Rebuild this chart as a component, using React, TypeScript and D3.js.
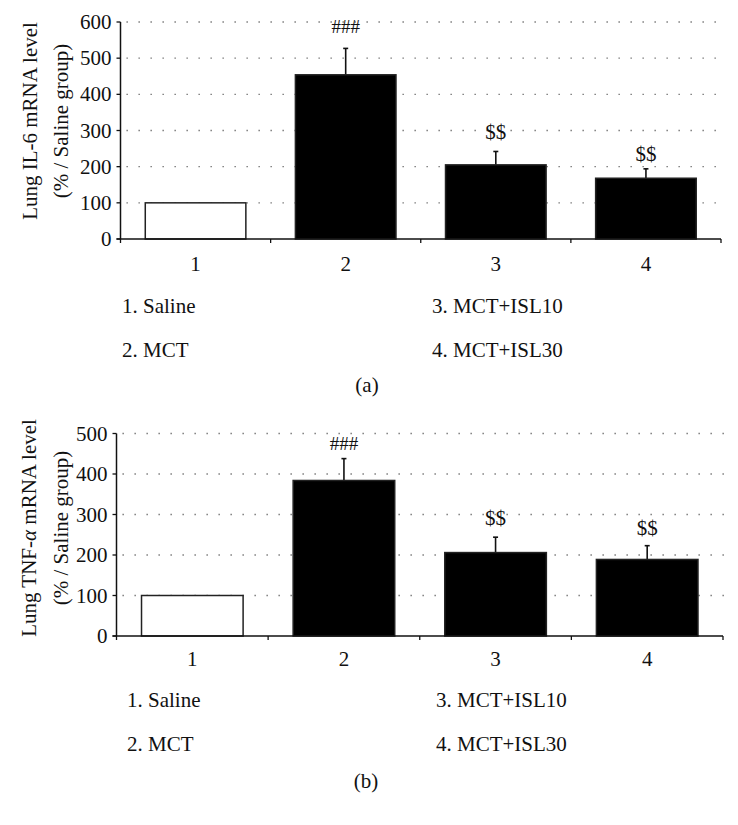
import React from "react";
import * as d3 from "d3";

const categories = ["1", "2", "3", "4"];
const legendLeft = ["1. Saline", "2. MCT"];
const legendRight = ["3. MCT+ISL10", "4. MCT+ISL30"];

const il6Means = [100, 454, 205, 168];
const il6Errors = [0, 73, 37, 26];
const il6Marks = ["", "###", "$$", "$$"];
const il6Ticks = [0, 100, 200, 300, 400, 500, 600];

const tnfMeans = [100, 384, 206, 189];
const tnfErrors = [0, 54, 38, 34];
const tnfMarks = ["", "###", "$$", "$$"];
const tnfTicks = [0, 100, 200, 300, 400, 500];

const FONT = "'Liberation Serif', 'Times New Roman', serif";

type PanelProps = {
  means: number[];
  errors: number[];
  marks: string[];
  ticks: number[];
  yMax: number;
  x0: number;
  x1: number;
  yTop: number;
  yBottom: number;
  title1: React.ReactNode;
  title2: string;
  titleX1: number;
  titleX2: number;
  titleCY: number;
  tickLabelBaseline: number;
  legendX1: number;
  legendX2: number;
  legendY1: number;
  legendY2: number;
  caption: string;
  captionX: number;
  captionY: number;
  markOffsets: number[];
};

function Panel(p: PanelProps) {
  const x = d3.scaleBand<string>().domain(categories).range([p.x0, p.x1]).paddingInner(0.33).paddingOuter(0.165);
  const xb = d3.scaleBand<string>().domain(categories).range([p.x0, p.x1]);
  const y = d3.scaleLinear().domain([0, p.yMax]).range([p.yBottom, p.yTop]);
  const fs = 21;
  return (
    <g fontFamily={FONT} fill="#111">
      {p.ticks.filter((t) => t > 0).map((t) => (
        <line key={"g" + t} x1={p.x0 + 6} x2={p.x1 + 2} y1={y(t)} y2={y(t)} stroke="#6a6a6a" strokeWidth={1.3} strokeDasharray="1.3 10.7" />
      ))}
      {p.means.map((m, i) => {
        const c = categories[i];
        const bx = x(c)!;
        const bw = x.bandwidth();
        const cx = bx + bw / 2;
        const top = y(m + p.errors[i]);
        return (
          <g key={"b" + i}>
            {p.errors[i] > 0 && (
              <g stroke="#111" strokeWidth={1.6}>
                <line x1={cx} x2={cx} y1={y(m)} y2={top} />
                <line x1={cx - 2.5} x2={cx + 2.5} y1={top} y2={top} />
              </g>
            )}
            <rect x={bx} y={y(m)} width={bw} height={y(0) - y(m)} fill={i === 0 ? "#fff" : "#000"} stroke="#222" strokeWidth={1.5} />
            {p.marks[i] && (
              <text x={cx} y={top - p.markOffsets[i]} textAnchor="middle" fontSize={p.marks[i] === "###" ? 19 : 21}>
                {p.marks[i]}
              </text>
            )}
          </g>
        );
      })}
      <line x1={p.x0} x2={p.x0} y1={p.yTop} y2={p.yBottom} stroke="#111" strokeWidth={1.5} />
      <line x1={p.x0 - 4} x2={p.x1} y1={p.yBottom} y2={p.yBottom} stroke="#111" strokeWidth={1.5} />
      {p.ticks.map((t) => (
        <g key={"t" + t}>
          <line x1={p.x0 - 4} x2={p.x0} y1={y(t)} y2={y(t)} stroke="#111" strokeWidth={1.3} />
          <text x={p.x0 - 9} y={y(t) + 7} textAnchor="end" fontSize={fs}>
            {t}
          </text>
        </g>
      ))}
      {categories.map((c) => (
        <line key={"xt" + c} x1={xb(c)! + xb.bandwidth()} x2={xb(c)! + xb.bandwidth()} y1={p.yBottom} y2={p.yBottom + 4} stroke="#111" strokeWidth={1.3} />
      ))}
      <line x1={p.x0} x2={p.x0} y1={p.yBottom} y2={p.yBottom + 4} stroke="#111" strokeWidth={1.3} />
      {categories.map((c) => (
        <text key={"xl" + c} x={xb(c)! + xb.bandwidth() / 2} y={p.tickLabelBaseline} textAnchor="middle" fontSize={fs}>
          {c}
        </text>
      ))}
      <text transform={`translate(${p.titleX1},${p.titleCY}) rotate(-90)`} textAnchor="middle" fontSize={fs}>
        {p.title1}
      </text>
      <text transform={`translate(${p.titleX2},${p.titleCY}) rotate(-90)`} textAnchor="middle" fontSize={fs}>
        {p.title2}
      </text>
      <text x={p.legendX1} y={p.legendY1} fontSize={fs}>{legendLeft[0]}</text>
      <text x={p.legendX1} y={p.legendY2} fontSize={fs}>{legendLeft[1]}</text>
      <text x={p.legendX2} y={p.legendY1} fontSize={fs}>{legendRight[0]}</text>
      <text x={p.legendX2} y={p.legendY2} fontSize={fs}>{legendRight[1]}</text>
      <text x={p.captionX} y={p.captionY} textAnchor="middle" fontSize={fs}>{p.caption}</text>
    </g>
  );
}

export default function App() {
  return (
    <div style={{ position: "absolute", left: 0, top: 0 }}>
      <svg width={738} height={825} viewBox="0 0 738 825" style={{ display: "block", background: "#fff" }}>
        <Panel
          means={il6Means}
          errors={il6Errors}
          marks={il6Marks}
          ticks={il6Ticks}
          yMax={600}
          x0={120.5}
          x1={721}
          yTop={22}
          yBottom={239}
          title1="Lung IL-6 mRNA level"
          title2="(% / Saline group)"
          titleX1={37}
          titleX2={68}
          titleCY={121}
          tickLabelBaseline={271}
          legendX1={122}
          legendX2={432}
          legendY1={313}
          legendY2={357}
          caption="(a)"
          captionX={367}
          captionY={392}
          markOffsets={[0, 15, 12, 8]}
        />
        <Panel
          means={tnfMeans}
          errors={tnfErrors}
          marks={tnfMarks}
          ticks={tnfTicks}
          yMax={500}
          x0={116.5}
          x1={723}
          yTop={433.5}
          yBottom={636}
          title1={
            <>
              {"Lung TNF-"}
              <tspan fontStyle="italic">α</tspan>
              {" mRNA level"}
            </>
          }
          title2="(% / Saline group)"
          titleX1={36}
          titleX2={68}
          titleCY={528}
          tickLabelBaseline={666}
          legendX1={127}
          legendX2={436}
          legendY1={707}
          legendY2={751}
          caption="(b)"
          captionX={366}
          captionY={788}
          markOffsets={[0, 9, 12, 11]}
        />
      </svg>
    </div>
  );
}
